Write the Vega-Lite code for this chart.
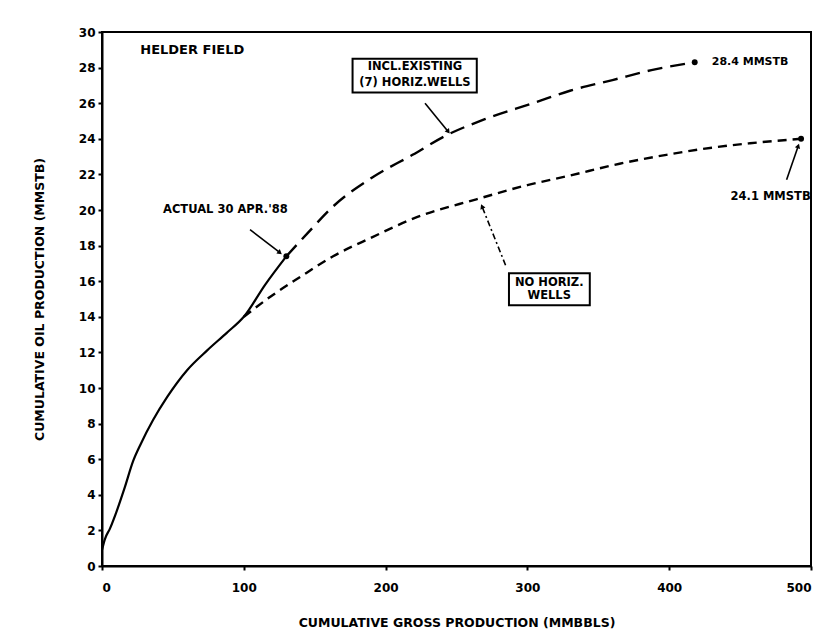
{
  "$schema": "https://vega.github.io/schema/vega-lite/v6.json",
  "width": 709,
  "height": 534,
  "autosize": {"type": "none"},
  "padding": {"left": 102, "top": 32, "right": 26, "bottom": 76},
  "background": "white",
  "config": {
    "view": {"stroke": "black", "strokeWidth": 2},
    "font": "DejaVu Sans",
    "axis": {
      "grid": false,
      "domainColor": "black",
      "domainWidth": 2,
      "tickColor": "black",
      "tickWidth": 2,
      "tickSize": 4,
      "labelFont": "DejaVu Sans",
      "labelFontWeight": "bold",
      "labelFontSize": 12,
      "labelColor": "black",
      "labelOverlap": false,
      "titleFont": "DejaVu Sans",
      "titleFontWeight": "bold",
      "titleFontSize": 12.5,
      "titleColor": "black"
    }
  },
  "datasets": {
    "curves": [
      {"series": "actual", "gross": 0, "oil": 0.9},
      {"series": "actual", "gross": 2, "oil": 1.5},
      {"series": "actual", "gross": 5.6, "oil": 2.1},
      {"series": "actual", "gross": 10, "oil": 3.0},
      {"series": "actual", "gross": 16, "oil": 4.4},
      {"series": "actual", "gross": 22, "oil": 5.9},
      {"series": "actual", "gross": 27, "oil": 6.8},
      {"series": "actual", "gross": 36, "oil": 8.2},
      {"series": "actual", "gross": 46, "oil": 9.5},
      {"series": "actual", "gross": 60, "oil": 11.0},
      {"series": "actual", "gross": 74, "oil": 12.1},
      {"series": "actual", "gross": 88, "oil": 13.1},
      {"series": "actual", "gross": 100, "oil": 14.0},
      {"series": "actual", "gross": 115, "oil": 15.8},
      {"series": "actual", "gross": 130, "oil": 17.4},
      {"series": "incl", "gross": 130, "oil": 17.4},
      {"series": "incl", "gross": 145, "oil": 18.7},
      {"series": "incl", "gross": 163, "oil": 20.2},
      {"series": "incl", "gross": 190, "oil": 21.8},
      {"series": "incl", "gross": 219, "oil": 23.1},
      {"series": "incl", "gross": 243, "oil": 24.2},
      {"series": "incl", "gross": 270, "oil": 25.1},
      {"series": "incl", "gross": 304, "oil": 26.0},
      {"series": "incl", "gross": 330, "oil": 26.7},
      {"series": "incl", "gross": 360, "oil": 27.3},
      {"series": "incl", "gross": 390, "oil": 27.9},
      {"series": "incl", "gross": 418, "oil": 28.3},
      {"series": "nohoriz", "gross": 100, "oil": 14.0},
      {"series": "nohoriz", "gross": 120, "oil": 15.2},
      {"series": "nohoriz", "gross": 140, "oil": 16.25},
      {"series": "nohoriz", "gross": 163, "oil": 17.4},
      {"series": "nohoriz", "gross": 190, "oil": 18.45},
      {"series": "nohoriz", "gross": 222, "oil": 19.6},
      {"series": "nohoriz", "gross": 264, "oil": 20.6},
      {"series": "nohoriz", "gross": 300, "oil": 21.4},
      {"series": "nohoriz", "gross": 328, "oil": 21.9},
      {"series": "nohoriz", "gross": 365, "oil": 22.6},
      {"series": "nohoriz", "gross": 398, "oil": 23.1},
      {"series": "nohoriz", "gross": 430, "oil": 23.5},
      {"series": "nohoriz", "gross": 457, "oil": 23.75},
      {"series": "nohoriz", "gross": 493, "oil": 24.0}
    ],
    "dots": [
      {"gross": 130, "oil": 17.4},
      {"gross": 418, "oil": 28.3},
      {"gross": 493, "oil": 24.0}
    ],
    "labels": [
      {"gross": 27, "oil": 29.0, "text": "HELDER FIELD", "kind": "title"},
      {"gross": 87, "oil": 20.0, "text": "ACTUAL 30 APR.'88", "kind": "note"},
      {"gross": 471.5, "oil": 20.75, "text": "24.1 MMSTB", "kind": "note"},
      {"gross": 220.7, "oil": 28.05, "text": "INCL.EXISTING", "kind": "note"},
      {"gross": 220.7, "oil": 27.15, "text": "(7) HORIZ.WELLS", "kind": "note"},
      {"gross": 315.4, "oil": 15.9, "text": "NO HORIZ.", "kind": "note"},
      {"gross": 315.4, "oil": 15.15, "text": "WELLS", "kind": "note"},
      {"gross": 430, "oil": 28.3, "text": "28.4 MMSTB", "kind": "right"}
    ],
    "boxes": [
      {"gross": 176.7, "gross2": 264.3, "oil": 26.6, "oil2": 28.5},
      {"gross": 287, "gross2": 344, "oil": 14.65, "oil2": 16.45}
    ],
    "arrows": [
      {"gross": 104.4, "oil": 18.9, "gross2": 125.5, "oil2": 17.6, "style": "solid"},
      {"gross": 227.8, "oil": 26.0, "gross2": 244.2, "oil2": 24.4, "style": "solid"},
      {"gross": 482.8, "oil": 21.7, "gross2": 491, "oil2": 23.6, "style": "solid"},
      {"gross": 284.6, "oil": 16.9, "gross2": 268, "oil2": 20.2, "style": "dashdot"}
    ]
  },
  "encoding": {
    "x": {"field": "gross", "type": "quantitative", "scale": {"domain": [0, 500], "nice": false},
      "axis": {"values": [0, 100, 200, 300, 400, 500], "title": "CUMULATIVE GROSS PRODUCTION (MMBBLS)", "labelPadding": 12, "titlePadding": 23}},
    "y": {"field": "oil", "type": "quantitative", "scale": {"domain": [0, 30], "nice": false},
      "axis": {"values": [0, 2, 4, 6, 8, 10, 12, 14, 16, 18, 20, 22, 24, 26, 28, 30], "labelOverlap": false, "title": "CUMULATIVE OIL PRODUCTION (MMSTB)", "labelPadding": 3, "titlePadding": 32}}
  },
  "layer": [
    {
      "data": {"name": "curves"},
      "transform": [{"filter": "datum.series === 'actual'"}],
      "mark": {"type": "line", "color": "black", "strokeWidth": 2.2, "interpolate": "monotone"}
    },
    {
      "data": {"name": "curves"},
      "transform": [{"filter": "datum.series === 'incl'"}],
      "mark": {"type": "line", "color": "black", "strokeWidth": 2.4, "strokeDash": [15, 8], "interpolate": "monotone"}
    },
    {
      "data": {"name": "curves"},
      "transform": [{"filter": "datum.series === 'nohoriz'"}],
      "mark": {"type": "line", "color": "black", "strokeWidth": 2.4, "strokeDash": [9, 6], "interpolate": "monotone"}
    },
    {
      "data": {"name": "dots"},
      "mark": {"type": "point", "filled": true, "color": "black", "size": 35, "opacity": 1}
    },
    {
      "data": {"name": "boxes"},
      "mark": {"type": "rect", "fill": "white", "stroke": "black", "strokeWidth": 2},
      "encoding": {"x2": {"field": "gross2"}, "y2": {"field": "oil2"}}
    },
    {
      "data": {"name": "labels"},
      "transform": [{"filter": "datum.kind === 'note'"}],
      "mark": {"type": "text", "font": "DejaVu Sans", "fontWeight": "bold", "fontSize": 11.5, "color": "black", "align": "center", "baseline": "middle"},
      "encoding": {"text": {"field": "text"}}
    },
    {
      "data": {"name": "labels"},
      "transform": [{"filter": "datum.kind === 'title'"}],
      "mark": {"type": "text", "font": "DejaVu Sans", "fontWeight": "bold", "fontSize": 13, "color": "black", "align": "left", "baseline": "middle"},
      "encoding": {"text": {"field": "text"}}
    },
    {
      "data": {"name": "labels"},
      "transform": [{"filter": "datum.kind === 'right'"}],
      "mark": {"type": "text", "font": "DejaVu Sans", "fontWeight": "bold", "fontSize": 11, "color": "black", "align": "left", "baseline": "middle"},
      "encoding": {"text": {"field": "text"}}
    },
    {
      "data": {"name": "arrows"},
      "transform": [{"filter": "datum.style === 'solid'"}],
      "mark": {"type": "rule", "color": "black", "strokeWidth": 1.6},
      "encoding": {"x2": {"field": "gross2"}, "y2": {"field": "oil2"}}
    },
    {
      "data": {"name": "arrows"},
      "transform": [{"filter": "datum.style === 'dashdot'"}],
      "mark": {"type": "rule", "color": "black", "strokeWidth": 1.6, "strokeDash": [6, 3, 2, 3]},
      "encoding": {"x2": {"field": "gross2"}, "y2": {"field": "oil2"}}
    },
    {
      "data": {"values": [{"gross": 125.5, "oil": 17.6}]},
      "mark": {"type": "point", "shape": "triangle-up", "filled": true, "color": "black", "size": 30, "opacity": 1, "angle": 128}
    },
    {
      "data": {"values": [{"gross": 244.2, "oil": 24.4}]},
      "mark": {"type": "point", "shape": "triangle-up", "filled": true, "color": "black", "size": 30, "opacity": 1, "angle": 142}
    },
    {
      "data": {"values": [{"gross": 268, "oil": 20.2}]},
      "mark": {"type": "point", "shape": "triangle-up", "filled": true, "color": "black", "size": 30, "opacity": 1, "angle": 338}
    },
    {
      "data": {"values": [{"gross": 491, "oil": 23.6}]},
      "mark": {"type": "point", "shape": "triangle-up", "filled": true, "color": "black", "size": 30, "opacity": 1, "angle": 19}
    }
  ]
}
